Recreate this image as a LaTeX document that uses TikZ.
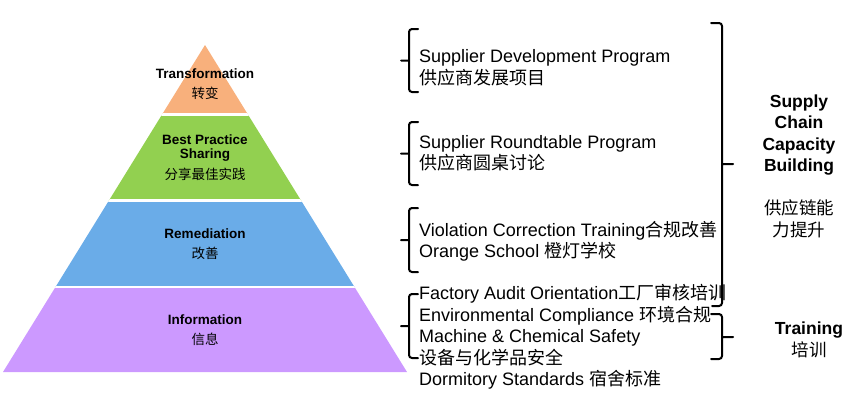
\documentclass[tikz,border=0pt]{standalone}
\usepackage{fontspec}
\setmainfont{Liberation Sans}
\newfontfamily\cjk{Noto Sans CJK SC}
\usepackage{tikz}
\definecolor{transorange}{RGB}{248,176,124}
\definecolor{bestgreen}{RGB}{146,208,80}
\definecolor{remblue}{RGB}{106,172,232}
\definecolor{infopurple}{RGB}{204,153,255}
\tikzset{
	layertext/.style={font=\bfseries\fontsize{13.5}{14}\selectfont, align=center, inner sep=0pt},
	program/.style={font=\fontsize{18}{21.5}\selectfont, align=left, anchor=west, inner sep=0pt},
	goal/.style={font=\bfseries\fontsize{17.5}{21.5}\selectfont, align=center, inner sep=0pt},
	curly/.style={line width=2pt, rounded corners=3pt, line cap=round}
}

\begin{document}
\begin{tikzpicture}[x=1pt, y=-1pt]
\useasboundingbox (0,0) rectangle (859,400);

% pyramid
\begin{scope}
\clip (205,45) -- (407,372) -- (3,372) -- cycle;
\fill[transorange] (0,40) rectangle (420,114.5);
\fill[bestgreen] (0,114.5) rectangle (420,200.5);
\fill[remblue] (0,200.5) rectangle (420,287);
\fill[infopurple] (0,287) rectangle (420,380);
\draw[white, line width=2.5pt] (0,114.5) -- (420,114.5) (0,200.5) -- (420,200.5) (0,287) -- (420,287);
\end{scope}

\node[layertext] (transformation) at (205,84) {Transformation\\[6pt]{\mdseries\cjk 转变}};
\node[layertext] (bestpractice) at (205,158) {Best Practice\\Sharing\\[6pt]{\mdseries\cjk 分享最佳实践}};
\node[layertext] (remediation) at (205,244) {Remediation\\[6pt]{\mdseries\cjk 改善}};
\node[layertext] (information) at (205,330) {Information\\[6pt]{\mdseries\cjk 信息}};

% programs
\node[program] (development) at (419,68) {Supplier Development Program\\{\cjk 供应商发展项目}};
\node[program] (roundtable) at (419,153.5) {Supplier Roundtable Program\\{\cjk 供应商圆桌讨论}};
\node[program] (correction) at (419,241.5) {Violation Correction Training{\cjk 合规改善}\\Orange School {\cjk 橙灯学校}};
\node[program] (training) at (419,337) {Factory Audit Orientation{\cjk 工厂审核培训}\\Environmental Compliance {\cjk 环境合规}\\Machine \& Chemical Safety\\{\cjk 设备与化学品安全}\\Dormitory Standards {\cjk 宿舍标准}};

% braces
\draw[curly] (418,29) -- (409,29) -- (409,92) -- (418,92) (409,60.5) -- (401,60.5);
\draw[curly] (418,122) -- (409,122) -- (409,185) -- (418,185) (409,153.5) -- (401,153.5);
\draw[curly] (418,208) -- (409,208) -- (409,272) -- (418,272) (409,240) -- (401,240);
\draw[curly] (418,294) -- (409,294) -- (409,358) -- (418,358) (409,326) -- (401,326);
\draw[curly] (711,23) -- (722,23) -- (722,306) -- (712,306) (722,164) -- (733,164);
\draw[curly] (711,314) -- (722,314) -- (722,359) -- (711,359) (722,337) -- (733,337);

% goals
\node[goal] (capacity) at (799,166) {Supply\\Chain\\Capacity\\Building\\[21.5pt]{\mdseries\cjk 供应链能}\\{\mdseries\cjk 力提升}};
\node[goal] (trainingtitle) at (809,340) {Training\\[1pt]{\mdseries\cjk 培训}};
\end{tikzpicture}
\end{document}
